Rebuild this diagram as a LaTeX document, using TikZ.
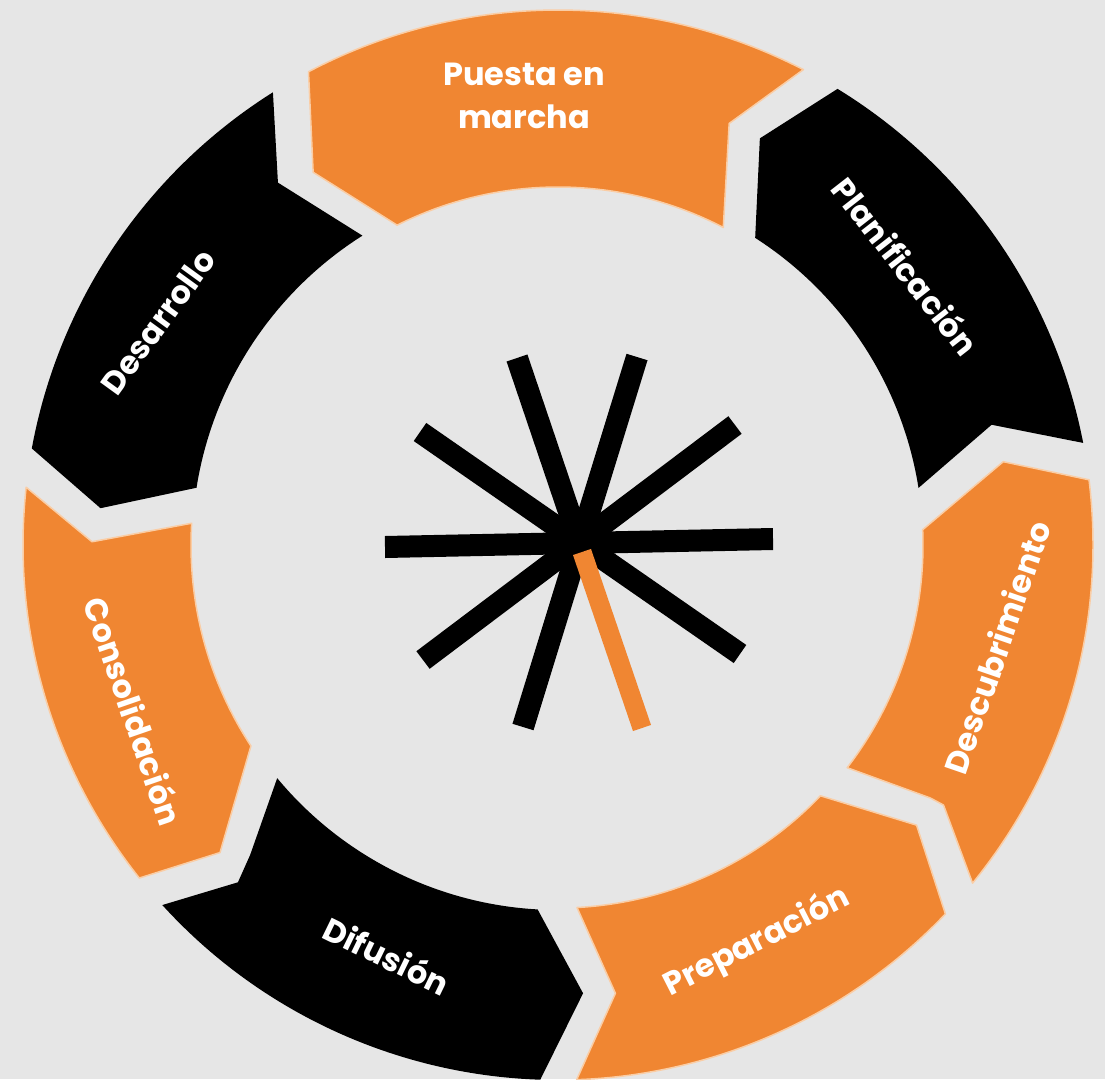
\documentclass[tikz,border=0pt]{standalone}
\usepackage{fontspec}
\setmainfont{Poppins}
\definecolor{bg}{RGB}{230,230,230}
\definecolor{segorange}{RGB}{240,134,50}
\definecolor{peach}{RGB}{250,205,165}
\begin{document}
\begin{tikzpicture}[x=1pt,y=-1pt,
  orangeseg/.style={fill=segorange, draw=peach, line width=1.5pt, line join=round},
  blackseg/.style={fill=black, line join=round},
  lbl/.style={text=white, font=\fontsize{32}{43}\selectfont\bfseries, inner sep=0pt, align=center},
  ray/.style={line width=22pt, draw=black},
  oray/.style={line width=19pt, draw=segorange}]
\fill[bg] (0,0) rectangle (1105,1079);
\useasboundingbox (0,0) rectangle (1105,1079);

\begin{scope}[shift={(558,545)}]
% Puesta en marcha (top, orange)
\path[orangeseg] (-117.8:535) arc[start angle=-117.8, end angle=-62.7, radius=535]
  -- (-67.9:455) -- (-62.5:358) arc[start angle=-62.5, end angle=-116.7, radius=358]
  -- (-123.3:446) -- cycle;
% Planificacion (upper right, black)
\path[blackseg] (-58.5:535) arc[start angle=-58.5, end angle=-11, radius=535]
  -- (-15.5:450) -- (-9:365) arc[start angle=-9, end angle=-57.3, radius=365]
  -- (-63.6:454) -- cycle;
% Descubrimiento (right, orange)
\path[orangeseg] (-7:535) arc[start angle=-7, end angle=39.2, radius=535]
  -- (34:465) -- (34.2:450) -- (37.6:365) arc[start angle=37.6, end angle=-2.4, radius=365]
  -- (-10.6:453) -- cycle;
% Preparacion (lower right, orange)
\path[orangeseg] (43.6:535) arc[start angle=43.6, end angle=88, radius=535]
  -- (82.7:452) -- (87:363) arc[start angle=87, end angle=43.7, radius=363]
  -- (38:455) -- cycle;
% Difusion (bottom left, black)
\path[blackseg] (91.9:535) arc[start angle=91.9, end angle=137.7, radius=535]
  -- (133.5:465) -- (134.8:437) -- (140.3:365) arc[start angle=140.3, end angle=93.2, radius=365]
  -- (86.8:449) -- cycle;
% Consolidacion (left, orange)
\path[orangeseg] (141.5:535) arc[start angle=141.5, end angle=186.2, radius=535]
  -- (180.4:466) -- (183.4:367) arc[start angle=183.4, end angle=146.8, radius=367]
  -- (137.7:457) -- cycle;
% Desarrollo (upper left, black)
\path[blackseg] (190.4:535) arc[start angle=190.4, end angle=237.8, radius=535]
  -- (232.3:458) -- (237.7:366) arc[start angle=237.7, end angle=189, radius=366]
  -- (184.6:459) -- cycle;
\end{scope}

% central star
\coordinate (h1) at (385,547);  \coordinate (h2) at (773,539);
\coordinate (s1) at (420,432);  \coordinate (s2) at (740,654);
\coordinate (t1) at (735,425);  \coordinate (t2) at (423,660);
\coordinate (u1) at (637,357);  \coordinate (u2) at (523,727);
\coordinate (v1) at (517,358);  \coordinate (v2) at (584,556);
\coordinate (o1) at (582,552);  \coordinate (o2) at (642,728);
\draw[ray] (h1) -- (h2);
\draw[ray] (s1) -- (s2);
\draw[ray] (t1) -- (t2);
\draw[ray] (u1) -- (u2);
\draw[ray] (v1) -- (v2);
\draw[oray] (o1) -- (o2);

% labels
\node[lbl] (puesta) at (524,96) {Puesta en\\marcha};
\node[lbl, rotate=-52] (plan) at (906,266) {Planificación};
\node[lbl, rotate=71] (desc) at (997,647) {Descubrimiento};
\node[lbl, rotate=27] (prep) at (757,942) {Preparación};
\node[lbl, rotate=-26] (dif) at (387,955) {Difusión};
\node[lbl, rotate=-71] (cons) at (134,711) {Consolidación};
\node[lbl, rotate=54] (des) at (158,322) {Desarrollo};
\end{tikzpicture}
\end{document}
